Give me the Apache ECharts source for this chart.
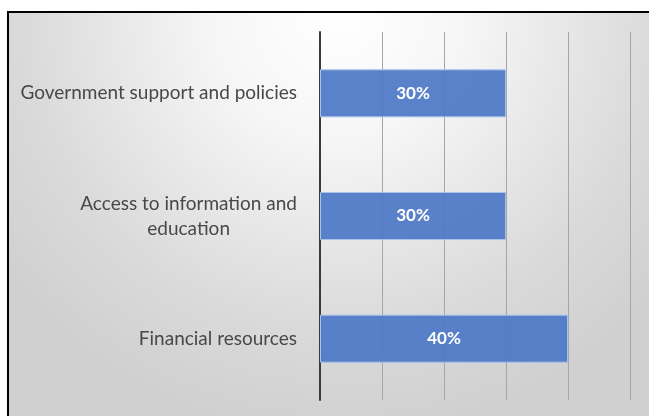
<!DOCTYPE html>
<html lang="en">
<head>
    <meta charset="UTF-8">
    <title>Barriers</title>
    <style>
        *{
            margin: 0;
            padding: 0;
        }
        html, body{
            width: 100%;
            height: 100%;
            overflow: hidden;
            background: #fff;
        }
        #chart{
            position: absolute;
            left: 7px;
            top: 11px;
            width: 660px;
            height: 420px;
            border: 2px solid #000;
        }
    </style>
</head>
<body>
<div id="chart"></div>
<script src="https://cdn.jsdelivr.net/npm/echarts@6/dist/echarts.min.js"></script>
<script>
    var categories = ['Government support and policies', 'Access to information and\neducation', 'Financial resources'];
    var values = [0.30, 0.30, 0.40];
    var xTicks = [0, 0.1, 0.2, 0.3, 0.4, 0.5];

    var chart = echarts.init(document.getElementById('chart'));

    var option = {
        backgroundColor: {
            type: 'radial',
            x: 0.5, y: 0, r: 1.0,
            colorStops: [
                {offset: 0, color: '#ffffff'},
                {offset: 0.3, color: '#f6f6f6'},
                {offset: 0.75, color: '#dadada'},
                {offset: 1, color: '#d0d0d0'}
            ]
        },
        grid: {
            left: 311,
            top: 19,
            width: 310,
            height: 368
        },
        xAxis: {
            type: 'value',
            min: xTicks[0],
            max: xTicks[xTicks.length - 1],
            interval: 0.1,
            axisLine: {show: false},
            axisTick: {show: false},
            axisLabel: {show: false},
            splitLine: {lineStyle: {color: '#a6a6a6', width: 1}}
        },
        yAxis: {
            type: 'category',
            inverse: true,
            data: categories,
            axisLine: {lineStyle: {color: '#3a3a3a', width: 2}},
            axisTick: {show: false},
            axisLabel: {
                margin: 23,
                formatter: function (v) {
                    return v.split('\n').map(function (s) { return '{c|' + s + '}'; }).join('\n');
                },
                rich: {
                    c: {
                        align: 'center',
                        fontFamily: 'Lato',
                        fontSize: 19,
                        color: '#484848',
                        lineHeight: 25
                    }
                }
            }
        },
        series: [{
            type: 'bar',
            data: values,
            barWidth: 48,
            itemStyle: {
                color: 'rgba(78,121,198,0.93)',
                borderColor: '#a9c2ea',
                borderWidth: 1
            },
            label: {
                show: true,
                position: 'inside',
                color: '#ffffff',
                fontFamily: 'Lato',
                fontWeight: 'bold',
                fontSize: 17,
                formatter: function (p) { return Math.round(p.value * 100) + '%'; }
            }
        }]
    };
    chart.setOption(option);
    window.onresize = function () {
        chart.resize();
    };
</script>
</body>
</html>
